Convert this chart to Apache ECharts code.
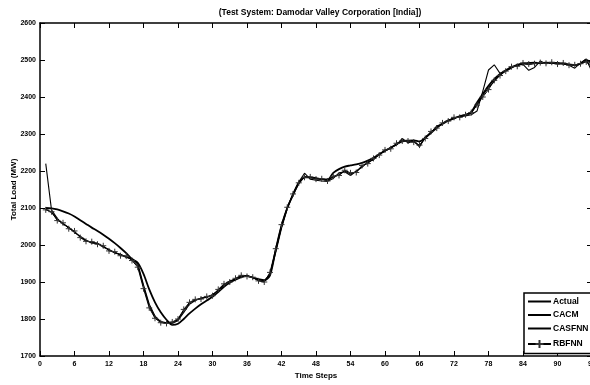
<!DOCTYPE html>
<html>
<head>
<meta charset="utf-8">
<script src="https://cdn.jsdelivr.net/npm/echarts@6/dist/echarts.min.js"></script>
<style>
html,body{margin:0;padding:0;background:#fff;}
#c{width:590px;height:385px;}
</style>
</head>
<body>
<div id="c"></div>
<script>
// Time steps 1..96
var steps = [];
for (var i = 1; i <= 96; i++) steps.push(i);

var xTicks = [0, 6, 12, 18, 24, 30, 36, 42, 48, 54, 60, 66, 72, 78, 84, 90, 96];
var yTicks = [1700, 1800, 1900, 2000, 2100, 2200, 2300, 2400, 2500, 2600];

var actual = [
  2097,2088,2070,2058,2047,2035,2022,2012,2007,2004,
  1996,1987,1980,1974,1968,1961,1945,1888,1835,1805,
  1792,1789,1790,1798,1823,1842,1851,1856,1859,1865,
  1878,1893,1902,1908,1916,1917,1912,1905,1901,1922,
  1985,2050,2100,2135,2165,2185,2182,2180,2177,2175,
  2184,2190,2200,2192,2198,2213,2222,2232,2245,2255,
  2262,2272,2283,2279,2280,2268,2290,2305,2318,2328,
  2337,2343,2347,2350,2356,2380,2405,2425,2442,2460,
  2472,2480,2485,2490,2487,2492,2491,2493,2492,2491,
  2490,2488,2485,2491,2498,2475
];
var cacm = [
  2100,2099,2096,2091,2085,2077,2067,2057,2047,2038,
  2028,2017,2005,1992,1978,1962,1952,1922,1880,1845,
  1818,1798,1784,1787,1800,1815,1828,1840,1850,1860,
  1873,1887,1898,1906,1913,1916,1912,1908,1905,1918,
  1988,2052,2100,2135,2168,2183,2183,2181,2178,2177,
  2195,2205,2212,2215,2218,2222,2228,2236,2245,2255,
  2263,2272,2280,2282,2283,2280,2290,2303,2317,2328,
  2336,2342,2348,2352,2360,2385,2408,2430,2448,2462,
  2472,2481,2487,2491,2492,2493,2492,2493,2492,2491,
  2490,2488,2486,2490,2500,2490
];
var casfnn = [
  2220,2095,2072,2056,2048,2034,2024,2013,2005,2005,
  1994,1988,1978,1975,1966,1963,1950,1892,1840,1808,
  1793,1790,1788,1796,1818,1840,1850,1857,1858,1866,
  1876,1892,1903,1907,1915,1918,1911,1906,1903,1920,
  1980,2045,2098,2140,2170,2194,2178,2175,2173,2172,
  2180,2195,2198,2188,2200,2210,2225,2230,2247,2253,
  2264,2270,2288,2276,2282,2265,2292,2302,2322,2326,
  2338,2341,2349,2349,2352,2362,2415,2473,2487,2464,
  2470,2478,2487,2488,2472,2480,2497,2490,2492,2493,
  2489,2486,2478,2492,2503,2468
];
var rbfnn = [
  2095,2090,2066,2060,2044,2038,2020,2010,2009,2002,
  1998,1984,1982,1971,1970,1958,1940,1882,1830,1802,
  1790,1788,1792,1800,1826,1845,1853,1854,1861,1863,
  1880,1895,1900,1910,1918,1915,1913,1903,1900,1926,
  1990,2055,2102,2138,2168,2183,2184,2178,2179,2173,
  2186,2188,2202,2195,2196,2215,2220,2234,2243,2257,
  2260,2275,2281,2281,2278,2270,2288,2307,2316,2330,
  2335,2345,2345,2352,2358,2378,2400,2420,2445,2458,
  2470,2482,2483,2492,2489,2490,2493,2491,2494,2489,
  2492,2486,2487,2490,2495,2485
];

function pairs(vals) {
  return steps.map(function (t, i) { return [t, vals[i]]; });
}

var FONT = "'Liberation Sans Narrow', 'Liberation Sans', Arial, sans-serif";
var lbl = { fontSize: 7, fontWeight: 'bold', color: '#000', fontFamily: FONT };
var noSym = { opacity: 0, borderWidth: 0 };

var chart = echarts.init(document.getElementById('c'), null, { renderer: 'canvas' });
chart.setOption({
  animation: false,
  backgroundColor: '#fff',
  textStyle: { fontFamily: FONT },
  title: {
    text: '(Test System: Damodar Valley Corporation [India])',
    left: 315, top: 3, textAlign: 'center',
    textStyle: { fontSize: 8.5, fontWeight: 'bold', color: '#000', fontFamily: FONT }
  },
  grid: { left: 40, top: 23, width: 552, height: 333, containLabel: false, outerBoundsMode: 'none' },
  legend: {
    left: 524, top: 293,
    orient: 'vertical',
    itemWidth: 23, itemHeight: 10, itemGap: 4.5,
    padding: [4, 6, 3, 3],
    backgroundColor: '#fff',
    borderColor: '#000', borderWidth: 1.5, borderRadius: 0,
    textStyle: { fontSize: 8.5, fontWeight: 'bold', color: '#000', fontFamily: FONT, padding: [0, 0, 0, -3] },
    data: [
      { name: 'Actual', itemStyle: noSym },
      { name: 'CACM', itemStyle: noSym },
      { name: 'CASFNN', itemStyle: noSym },
      { name: 'RBFNN' }
    ]
  },
  xAxis: [{
    type: 'value', min: 0, max: 96, interval: 6,
    name: 'Time Steps', nameLocation: 'middle', nameGap: 16, nameMoveOverlap: false,
    nameTextStyle: { fontSize: 8, fontWeight: 'bold', color: '#000', fontFamily: FONT },
    axisLine: { show: true, onZero: false, lineStyle: { color: '#000', width: 1.5 } },
    axisTick: { show: true, inside: true, length: 5, lineStyle: { color: '#000', width: 1 } },
    axisLabel: Object.assign({ margin: 5, showMaxLabel: true, formatter: function (v) { return String(v); } }, lbl),
    splitLine: { show: false }
  }, {
    type: 'value', min: 0, max: 96, interval: 6, position: 'top',
    axisLine: { show: true, onZero: false, lineStyle: { color: '#000', width: 1.5 } },
    axisTick: { show: true, inside: true, length: 5, lineStyle: { color: '#000', width: 1 } },
    axisLabel: { show: false },
    splitLine: { show: false }
  }],
  yAxis: [{
    type: 'value', min: 1700, max: 2600, interval: 100,
    name: 'Total Load (MW)', nameLocation: 'middle', nameGap: 22, nameMoveOverlap: false,
    nameTextStyle: { fontSize: 8, fontWeight: 'bold', color: '#000', fontFamily: FONT },
    axisLine: { show: true, onZero: false, lineStyle: { color: '#000', width: 1.5 } },
    axisTick: { show: true, inside: true, length: 5, lineStyle: { color: '#000', width: 1 } },
    axisLabel: Object.assign({ margin: 4, formatter: function (v) { return String(v); } }, lbl),
    splitLine: { show: false }
  }, {
    type: 'value', min: 1700, max: 2600, interval: 100, position: 'right',
    axisLine: { show: true, onZero: false, lineStyle: { color: '#000', width: 1.5 } },
    axisTick: { show: true, inside: true, length: 5, lineStyle: { color: '#000', width: 1 } },
    axisLabel: { show: false },
    splitLine: { show: false }
  }],
  series: [{
    name: 'Actual', type: 'line', data: pairs(actual),
    symbol: 'none', lineStyle: { color: '#000', width: 1.1 }, itemStyle: { color: '#000' }
  }, {
    name: 'CACM', type: 'line', data: pairs(cacm), smooth: 0.3,
    symbol: 'none', lineStyle: { color: '#000', width: 1.8 }, itemStyle: { color: '#000' }
  }, {
    name: 'CASFNN', type: 'line', data: pairs(casfnn),
    symbol: 'none', lineStyle: { color: '#000', width: 1.1 }, itemStyle: { color: '#000' }
  }, {
    name: 'RBFNN', type: 'line', data: pairs(rbfnn),
    symbol: 'path://M0,5L10,5M5,0L5,10', symbolSize: 6, showSymbol: true,
    lineStyle: { color: '#000', width: 1 },
    itemStyle: { color: 'none', borderColor: '#333', borderWidth: 1 }
  }]
});
</script>
</body>
</html>
